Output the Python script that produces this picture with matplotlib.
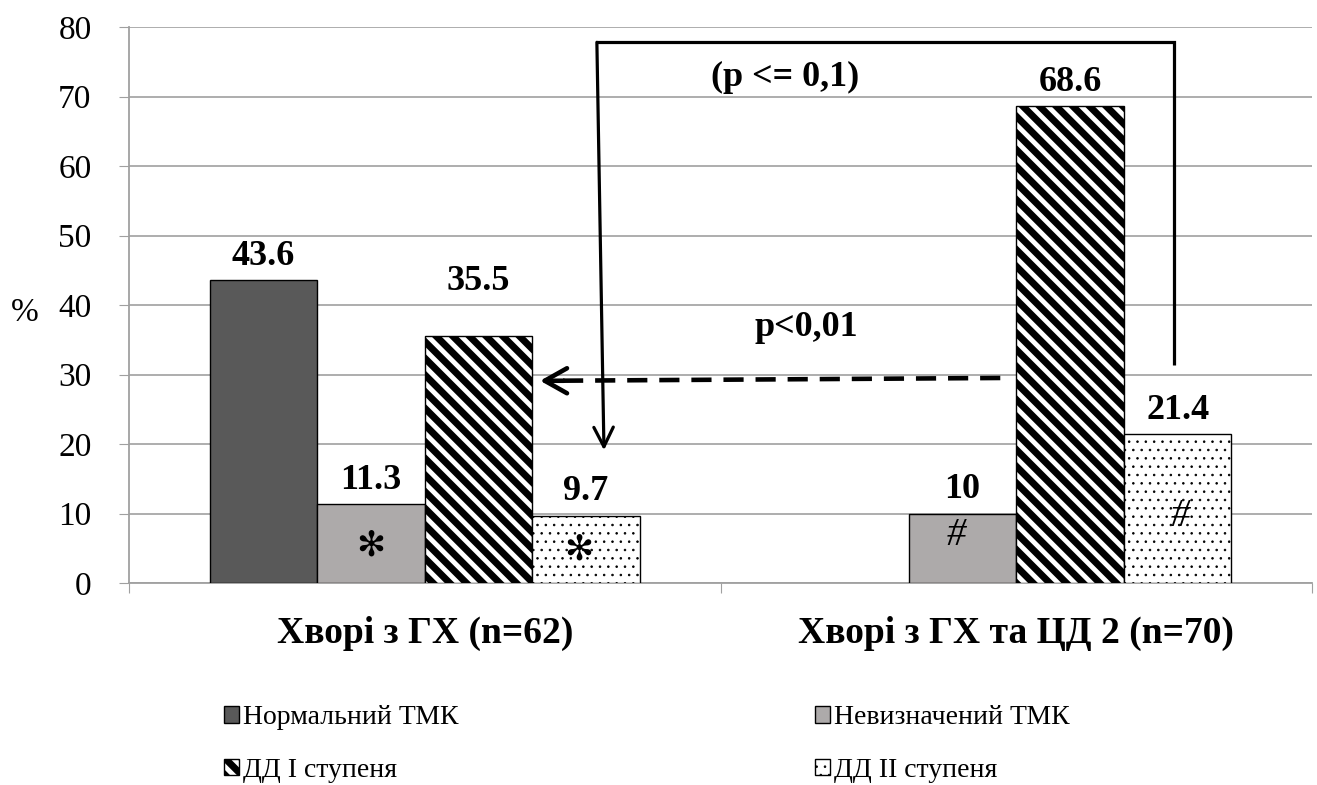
import numpy as np
import matplotlib as mpl
import matplotlib.pyplot as plt
from matplotlib.container import BarContainer
from matplotlib.legend_handler import HandlerPatch

plt.rcParams['font.family'] = ['Liberation Serif', 'DejaVu Sans']

# data
groups = ['Хворі з ГХ (n=62)', 'Хворі з ГХ та ЦД 2 (n=70)']
series = ['Нормальний ТМК', 'Невизначений ТМК', 'ДД І ступеня', 'ДД ІІ ступеня']
normal_tmk = [43.6, 0]
uncertain_tmk = [11.3, 10]
dd_1 = [35.5, 68.6]
dd_2 = [9.7, 21.4]
uncertain_marks = ['✻', '#']
dd_2_marks = ['✻', '#']

values = [normal_tmk, uncertain_tmk, dd_1, dd_2]

# bar styles: face colour, hatch, hatch line width
styles = [
    ('#595959', '', 1.0),
    ('#ADAAAA', '', 1.0),
    ('white', '\\\\', 5.0),
    ('white', '..', 0.6),
]
# lift of the value label over each bar (points)
label_lift = [[11, 11], [11, 11], [33, 11], [11, 11]]
# where the significance marks sit inside the bars (y, x shift)
mark_pos = {1: [(5.45, 0.0), (6.9, -0.01)], 3: [(4.75, -0.012), (9.5, 0.004)]}

grid_col = '#A0A0A0'

fig = plt.figure(figsize=(13.17, 7.85), dpi=100)
ax = fig.add_axes([129 / 1317, 1 - 583 / 785, 1183 / 1317, 556 / 785])

x = np.arange(len(groups))
w = 1 / 5.5
bars = []
for i, (vals, (fc, hatch, hlw)) in enumerate(zip(values, styles)):
    with mpl.rc_context({'hatch.linewidth': hlw, 'hatch.color': 'black'}):
        b = ax.bar(x + (i - 1.5) * w, vals, w, color=fc, edgecolor='black',
                   linewidth=1.0, hatch=hatch if hatch else None, zorder=3,
                   label=series[i])
        for p in b:
            if hasattr(p, 'set_hatch_linewidth'):
                p.set_hatch_linewidth(hlw)
            if p.get_height() == 0:
                p.set_linewidth(0)
    bars.append(b)
    for j, v in enumerate(vals):
        if v == 0:
            continue
        ax.annotate(f'{v:g}', (x[j] + (i - 1.5) * w, v), xytext=(0, label_lift[i][j]),
                    textcoords='offset points', ha='center', va='baseline',
                    fontsize=26, fontweight='bold', zorder=5)

# significance marks inside the bars
for i, marks in [(1, uncertain_marks), (3, dd_2_marks)]:
    for j, m in enumerate(marks):
        y, dx = mark_pos[i][j]
        if m == '✻':
            kw = dict(family=['DejaVu Sans'], fontsize=25)
        else:
            kw = dict(family=['Liberation Serif'], fontsize=28, style='italic')
        ax.text(x[j] + (i - 1.5) * w + dx, y, m, ha='center', va='center',
                zorder=5, **kw)

# bracket with arrow (p <= 0,1)
ax.plot([0.291, 1.267, 1.267], [77.8, 77.8, 31.4], color='black', lw=2.3,
        solid_joinstyle='miter', solid_capstyle='butt', zorder=4)
ax.annotate('', xy=(0.303, 19.1), xytext=(0.291, 77.8),
            arrowprops=dict(arrowstyle='->, head_length=0.7, head_width=0.35',
                            lw=2.3, color='black', shrinkA=0, shrinkB=0,
                            mutation_scale=20), zorder=4)
ax.text(0.609, 72.7, '(p <= 0,1)', ha='center', va='center', fontsize=26,
        fontweight='bold')

# dashed arrow p<0,01
ax.plot([0.973, 0.215], [29.5, 29.1], color='black', lw=3.3,
        ls=(0, (4.4, 2.6)), zorder=4)
ax.annotate('', xy=(0.195, 29.1), xytext=(0.235, 29.1),
            arrowprops=dict(arrowstyle='->, head_length=0.8, head_width=0.45',
                            lw=3.3, color='black', shrinkA=0, shrinkB=0,
                            mutation_scale=20), zorder=4)
ax.text(0.645, 36.7, 'p<0,01', ha='center', va='center', fontsize=26,
        fontweight='bold')

# axes
ax.set_xlim(-0.5, 1.5)
ax.set_ylim(0, 80)
ax.set_yticks(np.arange(0, 81, 10))
ax.tick_params(axis='y', labelsize=24, length=7, color=grid_col, pad=20)
ax.set_xticks([-0.5, 0.5, 1.5])
ax.set_xticklabels([])
ax.tick_params(axis='x', which='major', length=7, color=grid_col)
ax.set_xticks(x, minor=True)
ax.set_xticklabels(groups, minor=True, fontsize=27, fontweight='bold')
ax.tick_params(axis='x', which='minor', length=0, pad=24)
ax.grid(axis='y', color=grid_col, lw=1.2)
ax.set_axisbelow(True)
for s in ['top', 'right']:
    ax.spines[s].set_visible(False)
for s in ['left', 'bottom']:
    ax.spines[s].set_color(grid_col)
    ax.spines[s].set_linewidth(1.3)

ax.set_ylabel('%', rotation=0, fontsize=24, va='center', ha='center')
ax.yaxis.set_label_coords(-0.088, 0.486)


def legend_patch(handle, orig):
    src = orig.patches[0]
    handle.update_from(src)
    if hasattr(handle, 'set_hatch_linewidth'):
        handle.set_hatch_linewidth(src.get_hatch_linewidth())


handles = [bars[0], bars[2], bars[1], bars[3]]
labels = [series[0], series[2], series[1], series[3]]
fig.legend(handles, labels, loc='upper left', bbox_to_anchor=(224 / 1317, 1 - 705 / 785),
           ncol=2, frameon=False, fontsize=20, handlelength=0.55, handleheight=0.55,
           handletextpad=0.15, columnspacing=12.8, labelspacing=1.0,
           borderpad=0, borderaxespad=0,
           handler_map={BarContainer: HandlerPatch(update_func=legend_patch)})

fig.savefig('out.png', dpi=100)
